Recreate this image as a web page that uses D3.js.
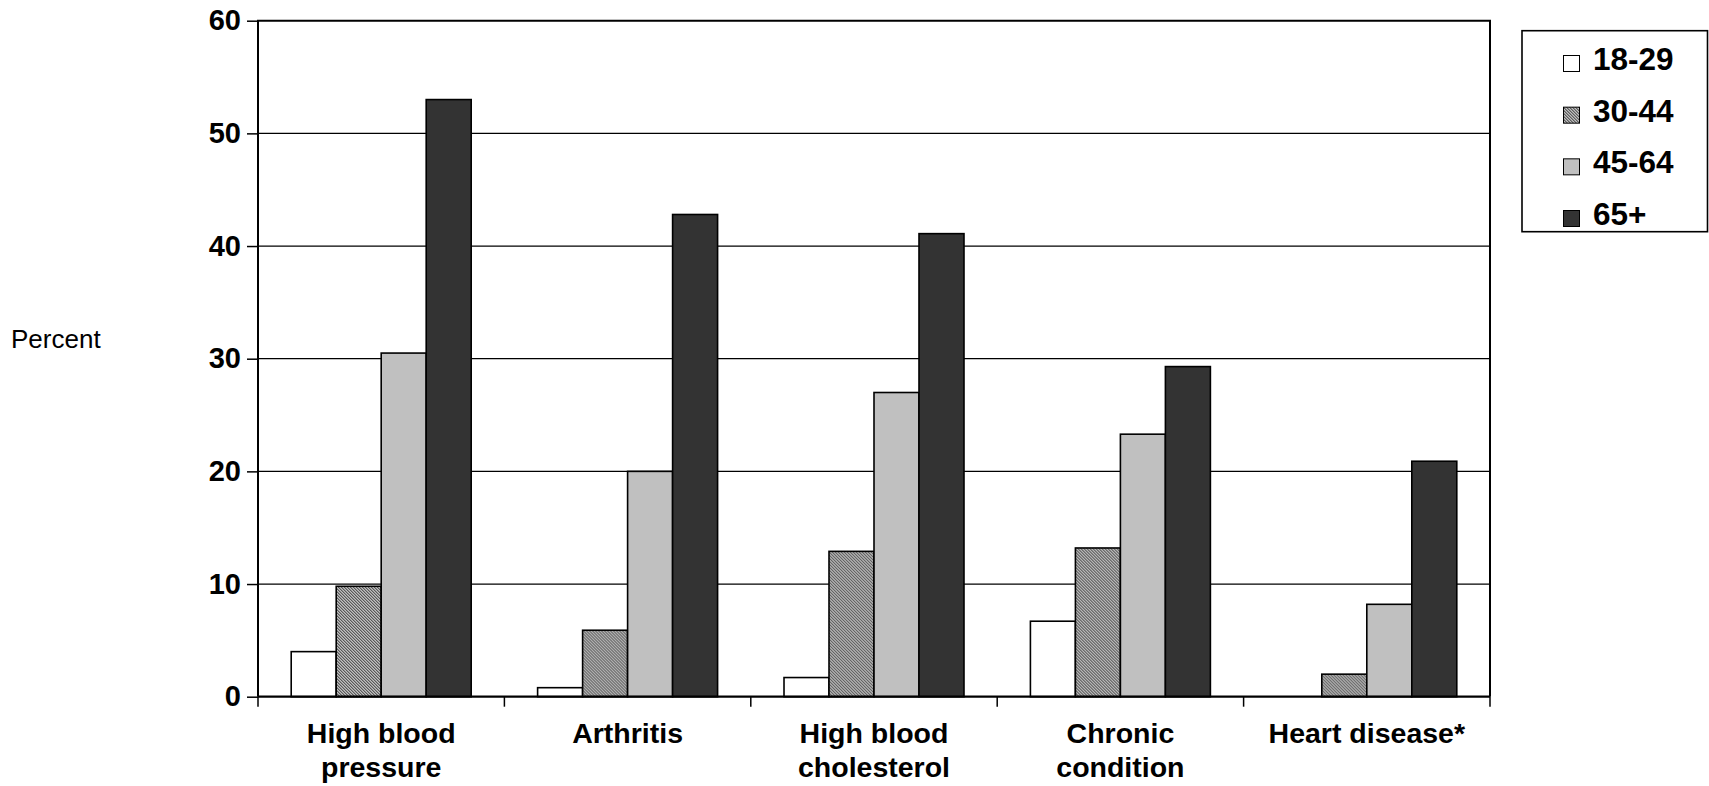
<!DOCTYPE html>
<html>
<head>
<meta charset="utf-8">
<script src="https://cdn.jsdelivr.net/npm/d3@7"></script>
<style>
  html, body { margin: 0; padding: 0; background: #fff; }
  svg { display: block; font-family: "Liberation Sans", Arial, sans-serif; }
</style>
</head>
<body>
<svg id="chart" width="1709" height="786"></svg>
<script>
// Conditions shown along the x axis (label lines)
const categories = [
  ["High blood", "pressure"],
  ["Arthritis"],
  ["High blood", "cholesterol"],
  ["Chronic", "condition"],
  ["Heart disease*"]
];

// Age groups
const ageGroups = ["18-29", "30-44", "45-64", "65+"];

// Percent with each condition, per age group
const age18to29 = [4.0, 0.8, 1.7, 6.7, 0.0];
const age30to44 = [9.8, 5.9, 12.9, 13.2, 2.0];
const age45to64 = [30.5, 20.0, 27.0, 23.3, 8.2];
const age65plus = [53.0, 42.8, 41.1, 29.3, 20.9];

const yTicks = [0, 10, 20, 30, 40, 50, 60];

const seriesValues = [age18to29, age30to44, age45to64, age65plus];

const svg = d3.select("#chart");
const margin = { left: 258, top: 20.7, right: 219, bottom: 89.3 };
const W = 1709, H = 786;
const plotW = W - margin.left - margin.right;
const plotH = H - margin.top - margin.bottom;

// Fine diagonal hatch for the 30-44 group
const defs = svg.append("defs");
const pat = defs.append("pattern")
  .attr("id", "hatch")
  .attr("patternUnits", "userSpaceOnUse")
  .attr("width", 3).attr("height", 3);
pat.append("rect").attr("width", 3).attr("height", 3).attr("fill", "#fff");
pat.append("path")
  .attr("d", "M0,0 L3,3 M-1,2 L1,4 M2,-1 L4,1")
  .attr("stroke", "#222").attr("stroke-width", 1.1);

const fills = ["#ffffff", "url(#hatch)", "#c0c0c0", "#333333"];

const catIdx = categories.map((d, i) => i);
const x0 = d3.scaleBand().domain(catIdx).range([0, plotW]).paddingInner(0).paddingOuter(0);
const x1 = d3.scaleBand().domain(ageGroups).range([0, x0.bandwidth()]).paddingInner(0).paddingOuter(0.738);
const y = d3.scaleLinear().domain([0, 60]).range([plotH, 0]);

const g = svg.append("g").attr("transform", `translate(${margin.left},${margin.top})`);

// Horizontal gridlines
g.append("g")
  .selectAll("line")
  .data(yTicks.filter(t => t > 0 && t < 60))
  .join("line")
  .attr("x1", 0).attr("x2", plotW)
  .attr("y1", d => y(d)).attr("y2", d => y(d))
  .attr("stroke", "#000").attr("stroke-width", 1.3);

// Y axis ticks and labels
const yAxis = g.append("g")
  .call(d3.axisLeft(y).tickValues(yTicks).tickSize(11).tickPadding(6).tickFormat(d3.format("d")));
yAxis.select(".domain").remove();
yAxis.selectAll(".tick line").attr("stroke", "#000").attr("stroke-width", 1.5);
yAxis.selectAll(".tick text")
  .attr("font-size", 29).attr("font-weight", "bold").attr("fill", "#000")
  .attr("font-family", "Liberation Sans, Arial, sans-serif");

// Bars
const groups = g.append("g")
  .selectAll("g")
  .data(catIdx)
  .join("g")
  .attr("transform", i => `translate(${x0(i)},0)`);

groups.selectAll("rect")
  .data(i => ageGroups.map((a, k) => ({ a, k, v: seriesValues[k][i] })))
  .join("rect")
  .attr("x", d => x1(d.a))
  .attr("width", x1.bandwidth())
  .attr("y", d => y(d.v))
  .attr("height", d => y(0) - y(d.v))
  .attr("fill", d => fills[d.k])
  .attr("stroke", "#000")
  .attr("stroke-width", d => d.v > 0 ? 1.6 : 0);

// Plot frame: left axis, top and right border, baseline
g.append("path")
  .attr("d", `M0,${plotH} V0 H${plotW} V${plotH}`)
  .attr("fill", "none").attr("stroke", "#000").attr("stroke-width", 2);
g.append("line")
  .attr("x1", 0).attr("x2", plotW).attr("y1", y(0)).attr("y2", y(0))
  .attr("stroke", "#000").attr("stroke-width", 2.2);

// Category boundary ticks below the baseline
const edges = catIdx.map(i => x0(i)).concat([plotW]);
g.append("g")
  .selectAll("line")
  .data(edges)
  .join("line")
  .attr("x1", d => d).attr("x2", d => d)
  .attr("y1", plotH).attr("y2", plotH + 10)
  .attr("stroke", "#000").attr("stroke-width", 1.5);

// Category labels
const xAxis = g.append("g")
  .attr("transform", `translate(0,${plotH})`)
  .call(d3.axisBottom(x0).tickSize(0).tickFormat(""));
xAxis.select(".domain").remove();
xAxis.selectAll(".tick").each(function(i) {
  const t = d3.select(this).append("text")
    .attr("text-anchor", "middle")
    .attr("font-size", 28.5).attr("font-weight", "bold").attr("fill", "#000")
    .attr("font-family", "Liberation Sans, Arial, sans-serif");
  categories[i].forEach((line, j) => {
    t.append("tspan").attr("x", 0).attr("y", 46.5 + j * 34).text(line);
  });
});

// Y axis title
svg.append("text")
  .attr("x", 11).attr("y", 347.5)
  .attr("font-size", 26).attr("fill", "#000")
  .text("Percent");

// Legend
const legend = svg.append("g");
legend.append("rect")
  .attr("x", 1522).attr("y", 30.7).attr("width", 185.5).attr("height", 201)
  .attr("fill", "#fff").attr("stroke", "#000").attr("stroke-width", 1.6);
const baselines = d3.scaleLinear().domain([0, 3]).range([70, 225]);
const items = legend.selectAll("g.item")
  .data(ageGroups)
  .join("g").attr("class", "item")
  .attr("transform", (d, k) => `translate(0,${baselines(k)})`);
items.append("rect")
  .attr("x", 1563.5).attr("y", -14.5).attr("width", 16).attr("height", 16)
  .attr("fill", (d, k) => fills[k])
  .attr("stroke", "#000").attr("stroke-width", 1);
items.append("text")
  .attr("x", 1593).attr("y", 0)
  .attr("font-size", 31.5).attr("font-weight", "bold").attr("fill", "#000")
  .text(d => d);
</script>
</body>
</html>
